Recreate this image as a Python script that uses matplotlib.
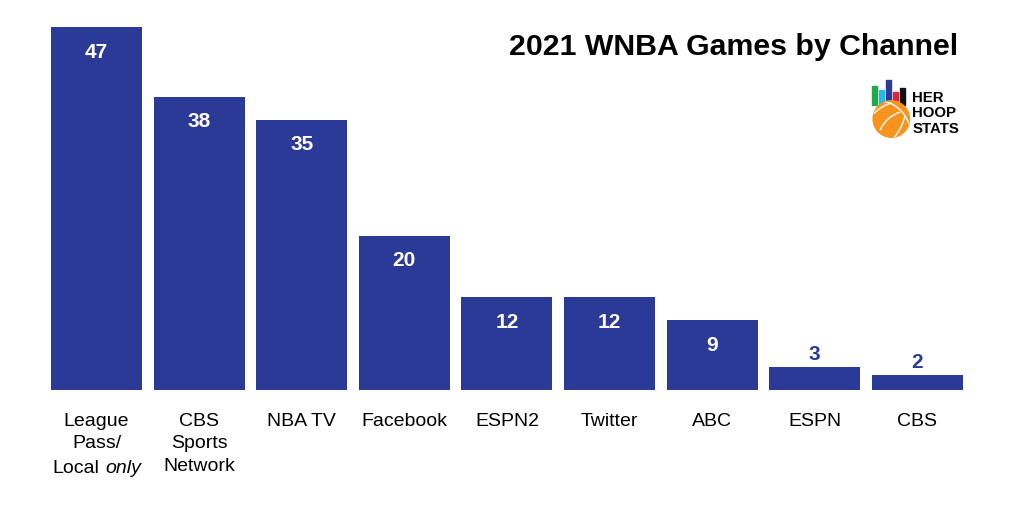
import matplotlib
matplotlib.use("Agg")
import matplotlib.pyplot as plt
from matplotlib.patches import Rectangle, Circle, PathPatch
from matplotlib.path import Path

plt.rcParams['font.family'] = ['Liberation Sans', 'DejaVu Sans']

categories = ["League\nPass/", "CBS\nSports\nNetwork", "NBA TV",
              "Facebook", "ESPN2", "Twitter", "ABC", "ESPN", "CBS"]
first_label_last_line = ("Local", "only")
games = [47, 38, 35, 20, 12, 12, 9, 3, 2]
title = "2021 WNBA Games by Channel"

BLUE = "#2b3a96"
W, H = 1012, 506
fig = plt.figure(figsize=(W / 100, H / 100), dpi=100)

ax = fig.add_axes([0, (H - 391) / H, 1, 391 / H])
x = list(range(len(games)))
bars = ax.bar(x, games, width=0.887, color=BLUE)
ax.set_xlim(-0.9405, 8.923)
ax.set_ylim(0, 391 / 7.723)
for s in ax.spines.values():
    s.set_visible(False)
ax.set_yticks([])
ax.set_xticks(x)
ax.set_xticklabels(categories, fontsize=14, linespacing=1.43, va='top')
ax.tick_params(axis='x', length=0, pad=15.5)

# third line of first label: "Local" regular + "only" italic
px = 0.72  # points per pixel at 100 dpi
ax.annotate(first_label_last_line[0], (x[0], 0), xycoords=('data', 'data'),
            xytext=(3.0 * px, -82.5 * px), textcoords='offset points',
            ha='right', va='baseline', fontsize=14)
ax.annotate(first_label_last_line[1], (x[0], 0), xycoords=('data', 'data'),
            xytext=(9.0 * px, -82.5 * px), textcoords='offset points',
            ha='left', va='baseline', fontsize=14, fontstyle='italic')

for xi, v in zip(x, games):
    if v >= 5:
        ax.annotate(str(v), (xi, v), xytext=(0, -17.3), textcoords='offset points',
                    ha='center', va='center', color='white', fontsize=15, fontweight='bold')
    else:
        ax.annotate(str(v), (xi, v), xytext=(0, 9.7), textcoords='offset points',
                    ha='center', va='center', color=BLUE, fontsize=15, fontweight='bold')

fig.text(958 / W, (H - 55) / H, title, ha='right', va='baseline',
         fontsize=21.8, fontweight='bold', color='black')

# Logo (decoration) in pixel coordinates
lg = fig.add_axes([0, 0, 1, 1], facecolor='none')
lg.set_xlim(0, W)
lg.set_ylim(H, 0)
lg.axis('off')
logo_bars = [(872.3, 86.7, "#1fa94b"), (879.0, 91.0, "#29b6e8"), (886.0, 81.0, "#2e3a97"),
             (893.3, 93.3, "#d7263d"), (900.3, 89.0, "#111111")]
for bx, by, bc in logo_bars:
    lg.add_patch(Rectangle((bx, by), 4.8, 106 - by, color=bc, zorder=2))
cx, cy, r = 891.3, 120.0, 18.2
ball = Circle((cx, cy), r, color="#f7941d", zorder=3)
lg.add_patch(ball)
seams = [((873.5, 115), (882, 106), (892, 104)),
         ((884, 102.5), (902, 106), (909.5, 126)),
         ((880, 131), (886, 118), (900, 113)),
         ((894, 138.5), (903, 128), (905, 116))]
for p0, p1, p2 in seams:
    pp = PathPatch(Path([p0, p1, p2], [Path.MOVETO, Path.CURVE3, Path.CURVE3]),
                   facecolor='none', edgecolor='white', lw=1.0, zorder=4)
    lg.add_patch(pp)
    pp.set_clip_path(ball)
for i, word in enumerate(["HER", "HOOP", "STATS"]):
    lg.text(912.5, 101.7 + i * 15.6, word, ha='left', va='baseline', fontsize=10.8,
            fontweight='bold', color='black')

fig.savefig("out.png", dpi=100, facecolor='white')
